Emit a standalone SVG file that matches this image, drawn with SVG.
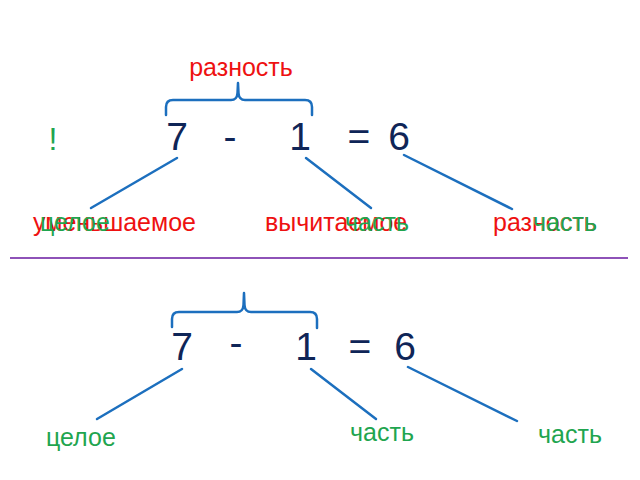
<svg xmlns="http://www.w3.org/2000/svg" width="640" height="480" viewBox="0 0 640 480">
<style>
text{font-family:"Liberation Sans",Arial,sans-serif}
.num{font-size:39px;fill:#0F2557;text-anchor:middle}
.red{font-size:25px;fill:#EE1111}
.grn{font-size:25px;fill:#1FA54F}
.ln{stroke:#1C6FBE;stroke-width:2.5;fill:none;stroke-linecap:round}
</style>
<rect width="640" height="480" fill="#fff"/>
<g id="top-equation">
<text class="red" x="241" y="76" text-anchor="middle">разность</text>
<path class="ln" d="M166,115 L166,107 Q166,100 173,100 L231,100 Q237,100 237.5,93 L238,83 M238,83 L238.5,93 Q239,100 245,100 L305,100 Q312,100 312,107 L312,115"/>
<text x="53" y="150" font-size="32" fill="#1FA54F" text-anchor="middle">!</text>
<text class="num" x="177" y="150">7</text>
<text class="num" x="230" y="150">-</text>
<text class="num" x="300" y="150">1</text>
<text class="num" x="359" y="150">=</text>
<text class="num" x="399" y="150">6</text>
</g>
<g id="top-labels">
<text class="red" x="33" y="231">уменьшаемое</text>
<text class="grn" x="40" y="231">целое</text>
<text class="red" x="265" y="231">вычитаемое</text>
<text class="grn" x="345" y="231">часть</text>
<text class="red" x="493" y="231">разность</text>
<text class="grn" x="533" y="231">часть</text>
</g>
<g id="separator">
<line x1="10" y1="258" x2="628" y2="258" stroke="#8E52B8" stroke-width="2"/>
</g>
<g id="bottom-equation">
<path class="ln" d="M172,327 L172,319 Q172,312 179,312 L237,312 Q243,312 243.5,305 L244,293 M244,293 L244.5,305 Q245,312 251,312 L310,312 Q317,312 317,319 L317,328"/>
<text class="num" x="182" y="360">7</text>
<text class="num" x="236" y="356">-</text>
<text class="num" x="306" y="360">1</text>
<text class="num" x="360" y="360">=</text>
<text class="num" x="405" y="360">6</text>
</g>
<g id="bottom-labels">
<text class="grn" x="46" y="446">целое</text>
<text class="grn" x="350" y="441">часть</text>
<text class="grn" x="538" y="443">часть</text>
</g>
<g id="connectors">
<line class="ln" x1="177" y1="158" x2="91" y2="208"/>
<line class="ln" x1="306" y1="158" x2="371" y2="208"/>
<line class="ln" x1="404" y1="155" x2="512" y2="209"/>
<line class="ln" x1="182" y1="369" x2="97" y2="419"/>
<line class="ln" x1="311" y1="369" x2="376" y2="419"/>
<line class="ln" x1="408" y1="367" x2="517" y2="421"/>
</g>
</svg>
